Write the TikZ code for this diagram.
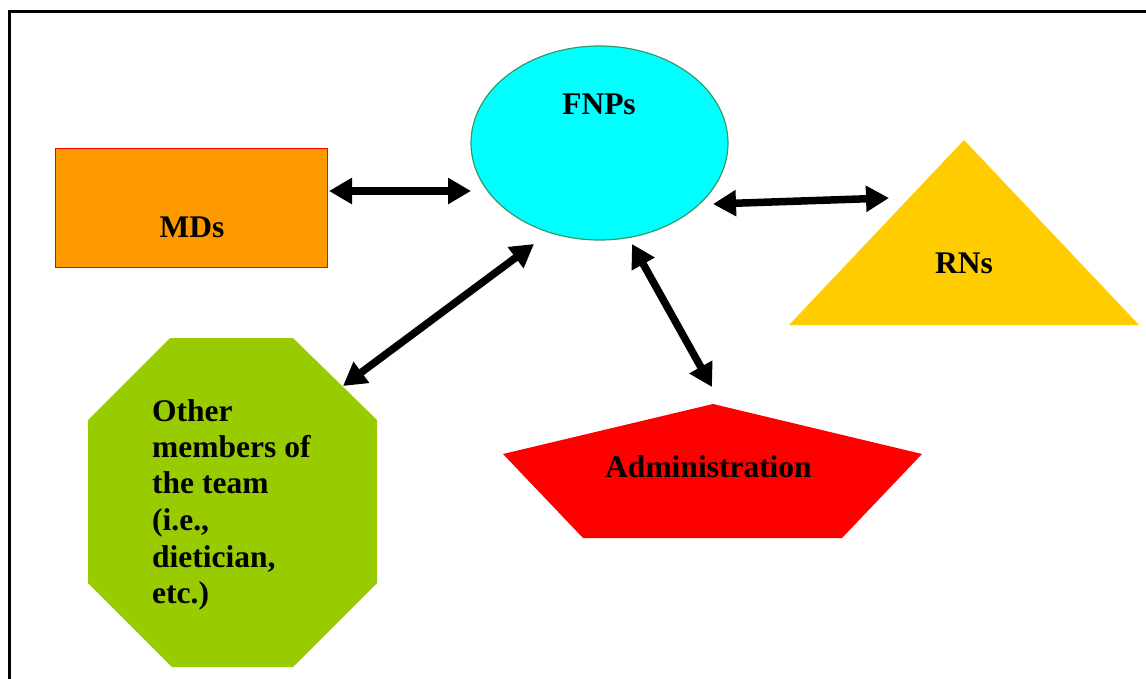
\documentclass[tikz,border=0pt]{standalone}
\usepackage{fontspec}
\setmainfont{Liberation Serif}
\usetikzlibrary{arrows.meta,shapes.geometric}
\definecolor{mdorange}{HTML}{FF9900}
\definecolor{mdborder}{HTML}{FF0000}
\definecolor{fnpcyan}{HTML}{00FFFF}
\definecolor{fnpborder}{HTML}{339966}
\definecolor{rnyellow}{HTML}{FFCC00}
\definecolor{admred}{HTML}{FF0000}
\definecolor{othgreen}{HTML}{99CC00}
\begin{document}
\begin{tikzpicture}[x=1pt,y=-1pt,
  lbl/.style={font=\fontsize{31.5}{36.5}\selectfont\bfseries, inner sep=0pt, anchor=base},
  olbl/.style={lbl, anchor=base west},
  arr/.style={line width=7.5pt,
    {Triangle[length=23pt,width=25pt]}-{Triangle[length=23pt,width=25pt]}}]
\useasboundingbox (0,0) rectangle (1146,679);
\clip (0,0) rectangle (1146,679);
% frame
\draw[line width=3pt] (9,700) -- (9,12) -- (1170,12);
% shapes
\node[draw=mdborder, fill=mdorange, line width=1.5pt, minimum width=272pt,
  minimum height=119pt, inner sep=0pt] (md) at (191.5,208) {};
\node[ellipse, draw=fnpborder, fill=fnpcyan, line width=1.2pt, minimum width=257pt,
  minimum height=194pt, inner sep=0pt] (fnp) at (599.5,143) {};
\fill[rnyellow] (964,140) -- (1139,325) -- (789,325) -- cycle;
\fill[admred] (713,404) -- (922,454) -- (842,538) -- (583,538) -- (503,454) -- cycle;
\fill[othgreen] (170,338) -- (293,338) -- (377,420) -- (377,583) -- (293,667)
  -- (172,667) -- (88,583) -- (88,420) -- cycle;
% labels
\node[lbl] (mdt) at (192,237) {MDs};
\node[lbl] (fnpt) at (599,115) {FNPs};
\node[lbl] (rnt) at (964,273) {RNs};
\node[lbl] (admt) at (708.5,477) {Administration};
\foreach \t/\y/\n in {{Other}/421/o1,{members of}/457/o2,{the team}/493/o3,
  {(i.e.,}/530/o4,{dietician,}/567/o5,{etc.)}/603/o6}
  \node[olbl] (\n) at (152,\y) {\t};
% connector end points
\coordinate (a1s) at (329,191);
\coordinate (a1e) at (471,191);
\coordinate (a2s) at (713,204);
\coordinate (a2e) at (889,198);
\coordinate (a3s) at (534,244);
\coordinate (a3e) at (343,386);
\coordinate (a4s) at (632,244);
\coordinate (a4e) at (712,387);
% connectors
\draw[arr] (a1s) -- (a1e);
\draw[arr] (a2s) -- (a2e);
\draw[arr] (a3s) -- (a3e);
\draw[arr] (a4s) -- (a4e);
\end{tikzpicture}
\end{document}
